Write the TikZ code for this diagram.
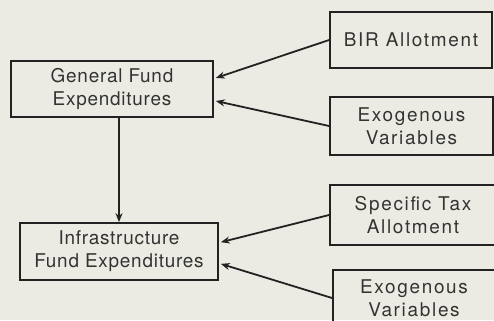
\documentclass[tikz,border=0pt]{standalone}
\usepackage{fontspec}
\setmainfont{TeX Gyre Heros}
\newfontfamily\leftfont[LetterSpace=4]{TeX Gyre Heros}
\newfontfamily\rightfont[LetterSpace=9]{TeX Gyre Heros}
\usetikzlibrary{arrows.meta,calc}
\definecolor{paper}{HTML}{ECEBE3}
\definecolor{ink}{HTML}{222222}
\definecolor{txt}{HTML}{333333}
\tikzset{
  box/.style={draw=ink, line width=1.8bp, rectangle, inner sep=0pt, align=center,
    text=txt},
  lbox/.style={box, font=\leftfont\fontsize{19}{23}\selectfont},
  rbox/.style={box, font=\rightfont\fontsize{19}{23}\selectfont},
  arr/.style={draw=ink, line width=1.8bp, -{Stealth[length=9bp,width=7bp]}, shorten >=2bp}
}
\begin{document}
\begin{tikzpicture}[x=1bp,y=-1bp]
\useasboundingbox (0,0) rectangle (494,320);
\fill[paper] (0,0) rectangle (494,320);
\clip (0,0) rectangle (494,320);
\node[lbox, minimum width=202bp, minimum height=56bp] (gf) at (112,89) {General Fund\\Expenditures};
\node[lbox, minimum width=198bp, minimum height=57bp] (if) at (119,251.5) {Infrastructure\\Fund Expenditures};
\node[rbox, minimum width=162bp, minimum height=56bp] (bir) at (411,40) {BIR Allotment};
\node[rbox, minimum width=163bp, minimum height=58bp] (exa) at (411.5,126) {Exogenous\\Variables};
\node[rbox, minimum width=166bp, minimum height=60bp] (st) at (413,215) {Specific Tax\\Allotment};
\node[rbox, minimum width=162bp, minimum height=56bp] (exb) at (414,298) {Exogenous\\Variables};
\coordinate (gfa) at ($(gf.north east)!0.32!(gf.south east)$);
\coordinate (gfb) at ($(gf.north east)!0.70!(gf.south east)$);
\coordinate (ifa) at ($(if.north east)!0.35!(if.south east)$);
\coordinate (ifb) at ($(if.north east)!0.70!(if.south east)$);
\draw[arr] (bir.west) -- (gfa);
\draw[arr] (exa.west) -- (gfb);
\draw[arr] (st.west) -- (ifa);
\draw[arr] (exb.west) -- (ifb);
\draw[arr, shorten >=0bp] (gf.south -| if.north) -- (if.north);
\end{tikzpicture}
\end{document}
